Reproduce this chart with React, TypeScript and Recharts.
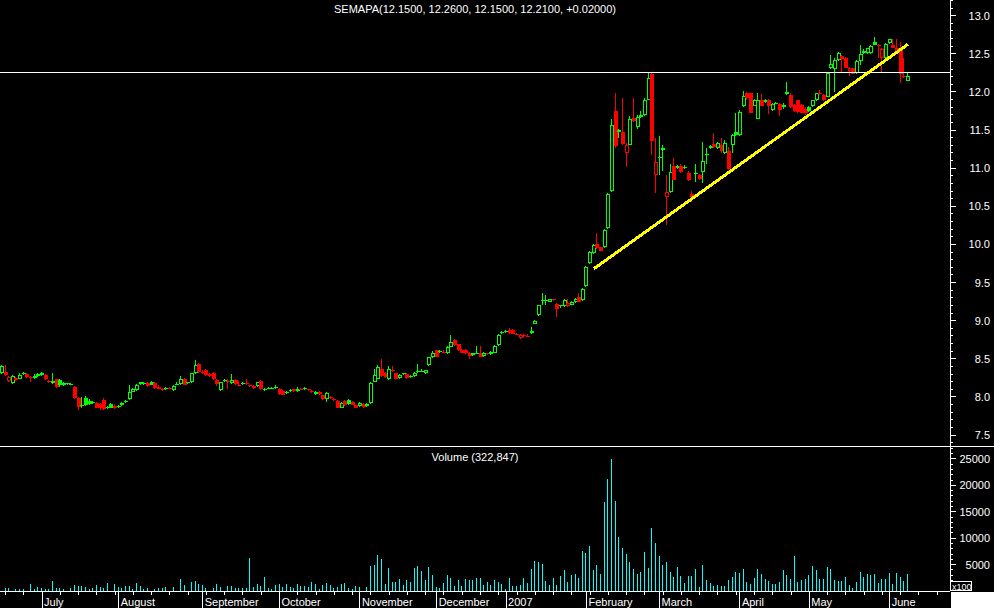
import React from "react";
import { ComposedChart, Bar, XAxis, YAxis, ReferenceLine } from "recharts";

document.body.style.margin = "0";
document.body.style.background = "#000";

// [open, high, low, close] per trading day, late June 2006 .. early June 2007
const candles: [number, number, number, number][] = [
  // 0-9
  [8.31, 8.42, 8.3, 8.4], [8.33, 8.42, 8.28, 8.29], [8.21, 8.27, 8.2, 8.26], [8.18, 8.29, 8.17, 8.27], [8.25, 8.26, 8.21, 8.22],
  [8.24, 8.31, 8.23, 8.29], [8.3, 8.33, 8.29, 8.31], [8.3, 8.31, 8.25, 8.26], [8.26, 8.27, 8.19, 8.25], [8.25, 8.3, 8.24, 8.27],
  // 10-19
  [8.3, 8.32, 8.26, 8.28], [8.31, 8.33, 8.28, 8.29], [8.29, 8.3, 8.22, 8.23], [8.21, 8.22, 8.18, 8.19], [8.18, 8.31, 8.17, 8.21],
  [8.23, 8.24, 8.12, 8.13], [8.22, 8.23, 8.13, 8.15], [8.18, 8.19, 8.14, 8.16], [8.18, 8.18, 8.15, 8.17], [8.16, 8.18, 8.15, 8.17],
  // 20-29
  [8.13, 8.14, 7.97, 7.98], [7.98, 8.0, 7.83, 7.87], [7.89, 8.0, 7.86, 7.88], [7.99, 8.01, 7.88, 7.9], [7.95, 7.97, 7.9, 7.91],
  [7.93, 7.94, 7.91, 7.92], [7.92, 7.93, 7.85, 7.86], [7.91, 7.92, 7.83, 7.85], [7.96, 7.98, 7.83, 7.84], [7.87, 7.88, 7.84, 7.85],
  // 30-39
  [7.91, 7.92, 7.85, 7.86], [7.88, 7.91, 7.84, 7.85], [7.88, 7.89, 7.86, 7.87], [7.89, 7.93, 7.88, 7.92], [7.93, 7.96, 7.92, 7.95],
  [7.97, 8.16, 7.96, 8.07], [8.07, 8.12, 8.06, 8.11], [8.09, 8.17, 8.08, 8.16], [8.19, 8.2, 8.16, 8.17], [8.17, 8.19, 8.16, 8.18],
  // 40-49
  [8.18, 8.19, 8.13, 8.14], [8.2, 8.21, 8.15, 8.16], [8.18, 8.19, 8.11, 8.12], [8.13, 8.15, 8.1, 8.11], [8.11, 8.12, 8.08, 8.09],
  [8.1, 8.13, 8.09, 8.12], [8.12, 8.13, 8.1, 8.11], [8.09, 8.15, 8.08, 8.14], [8.16, 8.19, 8.15, 8.17], [8.17, 8.27, 8.16, 8.23],
  // 50-59
  [8.24, 8.25, 8.15, 8.16], [8.18, 8.2, 8.17, 8.19], [8.19, 8.32, 8.18, 8.31], [8.31, 8.49, 8.3, 8.42], [8.43, 8.44, 8.32, 8.33],
  [8.33, 8.35, 8.3, 8.31], [8.35, 8.36, 8.28, 8.29], [8.3, 8.31, 8.26, 8.27], [8.32, 8.33, 8.22, 8.23], [8.22, 8.23, 8.14, 8.17],
  // 60-69
  [8.09, 8.2, 8.08, 8.19], [8.21, 8.23, 8.2, 8.22], [8.21, 8.23, 8.11, 8.2], [8.18, 8.3, 8.17, 8.22], [8.22, 8.23, 8.16, 8.17],
  [8.16, 8.21, 8.15, 8.16], [8.17, 8.19, 8.16, 8.18], [8.18, 8.23, 8.15, 8.17], [8.15, 8.16, 8.13, 8.14], [8.14, 8.15, 8.11, 8.12],
  // 70-79
  [8.14, 8.2, 8.13, 8.19], [8.21, 8.22, 8.09, 8.1], [8.1, 8.12, 8.08, 8.11], [8.11, 8.13, 8.1, 8.12], [8.12, 8.13, 8.1, 8.12],
  [8.12, 8.15, 8.11, 8.13], [8.11, 8.12, 8.03, 8.04], [8.08, 8.09, 8.02, 8.03], [8.05, 8.08, 8.04, 8.07], [8.08, 8.1, 8.07, 8.09],
  // 80-89
  [8.1, 8.11, 8.07, 8.08], [8.08, 8.13, 8.07, 8.11], [8.11, 8.12, 8.09, 8.1], [8.12, 8.13, 8.09, 8.1], [8.1, 8.11, 8.08, 8.09],
  [8.08, 8.09, 8.05, 8.06], [8.04, 8.08, 8.03, 8.07], [8.07, 8.08, 8.03, 8.04], [8.02, 8.03, 7.96, 7.97], [7.97, 8.06, 7.93, 8.05],
  // 90-99
  [7.98, 8.01, 7.97, 8.0], [7.97, 7.98, 7.95, 7.96], [7.95, 7.96, 7.85, 7.86], [7.86, 7.93, 7.85, 7.92], [7.95, 7.96, 7.88, 7.89],
  [7.96, 7.97, 7.9, 7.91], [7.93, 7.94, 7.89, 7.9], [7.89, 7.9, 7.85, 7.86], [7.88, 7.93, 7.87, 7.92], [7.91, 7.92, 7.86, 7.87],
  // 100-109
  [7.88, 7.92, 7.87, 7.91], [7.92, 8.19, 7.91, 8.18], [8.2, 8.37, 8.19, 8.29], [8.24, 8.42, 8.23, 8.39], [8.37, 8.5, 8.26, 8.27],
  [8.32, 8.33, 8.25, 8.26], [8.23, 8.41, 8.22, 8.36], [8.35, 8.4, 8.33, 8.35], [8.31, 8.32, 8.23, 8.24], [8.25, 8.3, 8.24, 8.29],
  // 110-119
  [8.3, 8.32, 8.29, 8.31], [8.3, 8.31, 8.24, 8.25], [8.26, 8.29, 8.25, 8.28], [8.27, 8.33, 8.26, 8.32], [8.33, 8.43, 8.32, 8.34],
  [8.34, 8.36, 8.33, 8.34], [8.31, 8.35, 8.3, 8.35], [8.42, 8.53, 8.41, 8.52], [8.52, 8.6, 8.51, 8.58], [8.61, 8.62, 8.52, 8.53],
  // 120-129
  [8.6, 8.61, 8.57, 8.59], [8.59, 8.61, 8.57, 8.58], [8.57, 8.67, 8.56, 8.66], [8.66, 8.81, 8.65, 8.72], [8.75, 8.76, 8.67, 8.68],
  [8.69, 8.7, 8.6, 8.61], [8.62, 8.63, 8.57, 8.58], [8.62, 8.63, 8.56, 8.57], [8.58, 8.59, 8.5, 8.54], [8.55, 8.58, 8.54, 8.57],
  // 130-139
  [8.58, 8.67, 8.56, 8.58], [8.58, 8.67, 8.52, 8.53], [8.54, 8.59, 8.53, 8.58], [8.57, 8.58, 8.55, 8.56], [8.56, 8.6, 8.55, 8.59],
  [8.58, 8.68, 8.57, 8.67], [8.68, 8.82, 8.67, 8.81], [8.84, 8.86, 8.83, 8.85], [8.87, 8.88, 8.84, 8.86], [8.88, 8.91, 8.83, 8.84],
  // 140-149
  [8.88, 8.89, 8.82, 8.83], [8.83, 8.84, 8.81, 8.82], [8.77, 8.82, 8.76, 8.81], [8.81, 8.83, 8.79, 8.8], [8.8, 8.82, 8.78, 8.79],
  [8.84, 8.92, 8.83, 8.87], [8.96, 9.01, 8.95, 9.0], [9.07, 9.21, 9.06, 9.2], [9.26, 9.36, 9.2, 9.27], [9.27, 9.34, 9.2, 9.27],
  // 150-159
  [9.25, 9.29, 9.24, 9.28], [9.28, 9.29, 9.26, 9.27], [9.22, 9.23, 9.05, 9.15], [9.19, 9.21, 9.17, 9.2], [9.19, 9.28, 9.18, 9.27],
  [9.19, 9.29, 9.18, 9.23], [9.21, 9.26, 9.2, 9.25], [9.24, 9.3, 9.23, 9.29], [9.31, 9.36, 9.24, 9.25], [9.27, 9.43, 9.26, 9.42],
  // 160-169
  [9.45, 9.72, 9.44, 9.71], [9.75, 9.91, 9.74, 9.9], [9.89, 10.0, 9.88, 9.99], [10.01, 10.15, 9.94, 9.95], [9.96, 9.97, 9.91, 9.92],
  [9.96, 10.2, 9.95, 10.19], [10.21, 10.67, 10.2, 10.66], [10.7, 11.65, 10.69, 11.57], [11.75, 11.98, 11.26, 11.29], [11.5, 11.52, 11.4, 11.47],
  // 170-179
  [11.47, 11.92, 11.3, 11.32], [11.2, 11.33, 11.02, 11.3], [11.31, 11.68, 11.3, 11.65], [11.66, 11.92, 11.6, 11.62], [11.54, 11.7, 11.52, 11.67],
  [11.67, 11.75, 11.66, 11.7], [11.7, 11.92, 11.69, 11.9], [11.9, 12.25, 11.89, 12.18], [12.24, 12.25, 11.17, 11.36], [10.91, 11.4, 10.68, 11.08],
  // 180-189
  [11.15, 11.42, 10.91, 11.13], [11.27, 11.3, 10.96, 11.24], [10.62, 10.91, 10.25, 10.69], [10.69, 11.06, 10.68, 10.95], [11.03, 11.13, 10.84, 10.85],
  [11.03, 11.04, 10.99, 11.0], [11.03, 11.06, 10.94, 10.95], [11.02, 11.04, 10.99, 11.01], [10.94, 10.96, 10.83, 10.84], [10.66, 10.7, 10.55, 10.62],
  // 190-199
  [10.94, 11.06, 10.82, 10.93], [10.91, 10.93, 10.85, 10.86], [10.95, 11.35, 10.8, 11.09], [11.17, 11.26, 11.06, 11.18], [11.26, 11.3, 11.25, 11.29],
  [11.32, 11.46, 11.27, 11.28], [11.26, 11.34, 11.25, 11.33], [11.31, 11.4, 11.2, 11.22], [11.2, 11.37, 11.19, 11.33], [11.22, 11.28, 10.97, 10.99],
  // 200-209
  [11.3, 11.45, 11.2, 11.43], [11.47, 11.72, 11.42, 11.44], [11.43, 11.76, 11.42, 11.74], [11.82, 12.01, 11.8, 11.95], [11.99, 12.0, 11.9, 11.92],
  [11.98, 11.99, 11.72, 11.73], [11.82, 11.91, 11.81, 11.9], [11.65, 11.98, 11.64, 11.9], [11.9, 11.97, 11.81, 11.82], [11.9, 11.91, 11.86, 11.87],
  // 210-219
  [11.9, 11.91, 11.71, 11.82], [11.76, 11.85, 11.75, 11.84], [11.85, 11.87, 11.84, 11.86], [11.84, 11.85, 11.69, 11.76], [11.8, 11.86, 11.78, 11.83],
  [12.0, 12.13, 11.96, 11.97], [11.96, 11.99, 11.79, 11.8], [11.83, 11.84, 11.74, 11.75], [11.89, 11.9, 11.73, 11.74], [11.83, 11.84, 11.72, 11.73],
  // 220-229
  [11.78, 11.8, 11.7, 11.72], [11.8, 11.81, 11.74, 11.75], [11.81, 11.9, 11.8, 11.89], [11.89, 11.99, 11.88, 11.98], [11.98, 12.03, 11.96, 11.97],
  [11.96, 11.97, 11.88, 11.89], [11.94, 12.25, 11.93, 12.25], [12.31, 12.49, 12.3, 12.37], [12.3, 12.44, 12.0, 12.42], [12.42, 12.53, 12.41, 12.51],
  // 230-239
  [12.47, 12.49, 12.25, 12.43], [12.45, 12.46, 12.31, 12.32], [12.27, 12.33, 12.21, 12.31], [12.31, 12.32, 12.23, 12.24], [12.25, 12.42, 12.24, 12.4],
  [12.41, 12.62, 12.35, 12.5], [12.51, 12.56, 12.5, 12.54], [12.51, 12.58, 12.5, 12.57], [12.51, 12.62, 12.5, 12.6], [12.65, 12.72, 12.61, 12.62],
  // 240-248
  [12.61, 12.63, 12.44, 12.6], [12.45, 12.58, 12.25, 12.56], [12.44, 12.64, 12.43, 12.63], [12.64, 12.7, 12.63, 12.7], [12.62, 12.69, 12.57, 12.58],
  [12.57, 12.69, 12.53, 12.54], [12.57, 12.66, 12.12, 12.24], [12.21, 12.45, 12.18, 12.2], [12.15, 12.26, 12.15, 12.21],
];

// daily volume, in hundreds of shares
const volumes = [
  0, 570, 570, 0, 380, 380, 380, 0, 1325, 380,
  820, 570, 440, 380, 1890, 570, 570, 380, 0, 570,
  1136, 1010, 1010, 820, 440, 570, 1136, 820, 570, 1515,
  0, 1325, 820, 570, 1010, 1010, 380, 1515, 950, 380,
  570, 0, 380, 570, 570, 760, 0, 760, 0, 2270,
  1136, 0, 1700, 1890, 1325, 1136, 570, 0, 570, 1325,
  760, 0, 950, 950, 570, 570, 570, 570, 6250, 760,
  1325, 950, 2650, 570, 380, 1136, 1325, 760, 1325, 760,
  570, 1325, 950, 950, 760, 1700, 1325, 380, 1136, 1515,
  1136, 570, 760, 1325, 1515, 570, 380, 950, 760, 0,
  760, 4730, 4920, 6815, 6060, 1325, 4350, 1700, 1700, 2270,
  1136, 2080, 1700, 4350, 4730, 3790, 2080, 4540, 3030, 760,
  570, 1515, 3030, 2460, 950, 2080, 950, 2270, 2080, 2080,
  2460, 2460, 1136, 1700, 1136, 2080, 1700, 1325, 380, 2460,
  950, 950, 1136, 2460, 1515, 4165, 5680, 5490, 5110, 1890,
  1136, 2460, 1136, 2840, 3975, 1700, 3030, 3220, 2460, 7570,
  7190, 8520, 3975, 4920, 3220, 16850, 21200, 24990, 17040, 10220,
  8140, 7000, 5490, 4165, 3220, 3600, 7380, 4350, 11930, 9090,
  6630, 4920, 5490, 3600, 2650, 4540, 2840, 1515, 2840, 2840,
  4165, 760, 4920, 2080, 1515, 950, 1136, 950, 950, 2080,
  2650, 3600, 3410, 4165, 1700, 1325, 2460, 4165, 3220, 2270,
  1890, 1325, 1325, 1700, 3975, 3030, 2270, 6630, 1700, 2080,
  2270, 3030, 4730, 3975, 2270, 2270, 4540, 4165, 2080, 1890,
  1890, 2650, 1136, 570, 1700, 3600, 2650, 3220, 3030, 3220,
  1515, 2270, 2270, 3410, 1325, 3410, 2650, 1890, 3220,
];

const monthTicks = [
  { idx: 11, label: "July" },
  { idx: 32, label: "August" },
  { idx: 55, label: "September" },
  { idx: 76, label: "October" },
  { idx: 98, label: "November" },
  { idx: 119, label: "December" },
  { idx: 138, label: "2007" },
  { idx: 160, label: "February" },
  { idx: 180, label: "March" },
  { idx: 202, label: "April" },
  { idx: 221, label: "May" },
  { idx: 243, label: "June" },
];

const priceTicks = [7.5, 8.0, 8.5, 9.0, 9.5, 10.0, 10.5, 11.0, 11.5, 12.0, 12.5, 13.0];
const volumeTicks = [5000, 10000, 15000, 20000, 25000];

const resistance = 12.25;
const trendStart = { idx: 162, price: 9.68 };
const trendEnd = { idx: 248, price: 12.625 };

const SLOTS = 260;
const GREEN = "#00ff00";
const RED = "#ff0000";
const CYAN = "#00ffff";
const FONT = "'Liberation Sans', Arial, sans-serif";

const data = Array.from({ length: SLOTS }, (_, i) => {
  const k = candles[i];
  if (!k) return { i };
  return {
    i,
    o: k[0],
    h: k[1],
    l: k[2],
    c: k[3],
    prev: i > 0 ? candles[i - 1][3] : null,
    range: [k[2], k[1]],
    vol: volumes[i],
  };
});

// minor ticks every 0.1 / 1000, labels only on priceTicks / volumeTicks
const minorPrice: number[] = [];
for (let v = 7.4; v <= 13.21; v += 0.1) minorPrice.push(Math.round(v * 10) / 10);
const minorVolume: number[] = [];
for (let v = 1000; v <= 27000; v += 1000) minorVolume.push(v);

const weekTicks: number[] = [];
for (let k = 1; k < SLOTS; k += 5) weekTicks.push(k);
const monthByIdx = new Map(monthTicks.map((m) => [m.idx, m.label]));
const xTicks = Array.from(new Set([...weekTicks, ...monthTicks.map((m) => m.idx)])).sort((a, b) => a - b);

function Candle(props: any) {
  const { x, y, width, height, payload } = props;
  if (!payload || payload.c == null || !isFinite(y) || !isFinite(height)) return null;
  const { o, h, l, c, prev } = payload;
  const top = Math.min(y, y + height);
  const k = Math.abs(height) / (h - l);
  const py = (v: number) => Math.round(top + (h - v) * k);
  const cx = Math.round(x + width / 2) - 1;
  const color = prev == null || c >= prev ? GREEN : RED;
  const hollow = c > o;
  const bt = py(Math.max(o, c));
  const bb = Math.max(py(Math.min(o, c)), bt + 1);
  const yh = py(h);
  const yl = Math.max(py(l), bb);
  return (
    <g>
      {bt > yh && <rect x={cx} y={yh} width={1} height={bt - yh} fill={color} />}
      {yl > bb && <rect x={cx} y={bb} width={1} height={yl - bb} fill={color} />}
      <rect x={cx - 1} y={bt} width={4} height={bb - bt} fill={color} />
      {hollow && bb - bt > 2 && <rect x={cx} y={bt + 1} width={2} height={bb - bt - 2} fill="#000" />}
    </g>
  );
}

function VolumeBar(props: any) {
  const { x, y, width, height, payload } = props;
  if (!payload || !payload.vol || !isFinite(y) || !isFinite(height)) return null;
  const top = Math.min(y, y + height);
  return <rect x={Math.round(x + width / 2) - 1} y={Math.round(top)} width={1} height={Math.round(Math.abs(height))} fill={CYAN} />;
}

function PriceTick(props: any) {
  const { x, y, payload } = props;
  const v = payload.value;
  const major = priceTicks.some((t) => Math.abs(t - v) < 1e-6);
  return (
    <g>
      <line x1={x} x2={x + (major ? 6 : 3)} y1={y} y2={y} stroke="#fff" />
      {major && (
        <text x={990} y={y + 4} textAnchor="end" fill="#fff" fontSize={11} fontFamily={FONT}>
          {v.toFixed(1)}
        </text>
      )}
    </g>
  );
}

function VolumeTick(props: any) {
  const { x, y, payload } = props;
  const v = payload.value;
  const major = volumeTicks.includes(v);
  return (
    <g>
      <line x1={x} x2={x + (major ? 6 : 3)} y1={y} y2={y} stroke="#fff" />
      {major && (
        <text x={990} y={y + 4} textAnchor="end" fill="#fff" fontSize={11} fontFamily={FONT}>
          {v}
        </text>
      )}
    </g>
  );
}

function DateTick(props: any) {
  const { x, y, payload } = props;
  const label = monthByIdx.get(payload.value);
  if (label) {
    return (
      <g>
        <line x1={x} x2={x} y1={y} y2={y + 17} stroke="#fff" />
        <text x={x + 2} y={y + 15} fill="#fff" fontSize={11} fontFamily={FONT}>
          {label}
        </text>
      </g>
    );
  }
  return <line x1={x} x2={x} y1={y} y2={y + 4} stroke="#fff" />;
}

export default function App() {
  return (
    <div
      style={{
        position: "relative",
        width: 994,
        height: 608,
        background: "#000",
        overflow: "hidden",
        shapeRendering: "crispEdges",
      }}
    >
      <div style={{ position: "absolute", left: 0, top: 0 }}>
        <ComposedChart width={994} height={447} data={data} margin={{ top: 0, right: 0, bottom: 0, left: 0 }}>
          <XAxis dataKey="i" hide />
          <YAxis
            orientation="right"
            width={44}
            type="number"
            domain={[7.343, 13.206]}
            allowDataOverflow
            ticks={minorPrice}
            interval={0}
            tick={PriceTick}
            tickSize={0}
            tickMargin={0}
            tickLine={false}
            axisLine={{ stroke: "#fff" }}
          />
          <ReferenceLine y={resistance} stroke="#fff" strokeWidth={1} />
          <Bar dataKey="range" shape={Candle} isAnimationActive={false} />
          <ReferenceLine
            segment={[
              { x: trendStart.idx, y: trendStart.price },
              { x: trendEnd.idx, y: trendEnd.price },
            ]}
            stroke="#ffff00"
            strokeWidth={3}
            ifOverflow="visible"
          />
        </ComposedChart>
      </div>
      <div style={{ position: "absolute", left: 0, top: 447 }}>
        <ComposedChart width={994} height={161} data={data} margin={{ top: 0, right: 0, bottom: 0, left: 0 }}>
          <XAxis
            dataKey="i"
            ticks={xTicks}
            interval={0}
            tick={DateTick}
            tickSize={0}
            tickMargin={0}
            tickLine={false}
            height={17}
            axisLine={{ stroke: "#fff" }}
          />
          <YAxis
            orientation="right"
            width={44}
            type="number"
            domain={[0, 27270]}
            allowDataOverflow
            ticks={minorVolume}
            interval={0}
            tick={VolumeTick}
            tickSize={0}
            tickMargin={0}
            tickLine={false}
            axisLine={{ stroke: "#fff" }}
          />
          <Bar dataKey="vol" shape={VolumeBar} isAnimationActive={false} />
        </ComposedChart>
      </div>
      <svg width={994} height={608} style={{ position: "absolute", left: 0, top: 0, pointerEvents: "none" }}>
        <text x={475} y={13} textAnchor="middle" fill="#fff" fontSize={11} fontFamily={FONT}>
          SEMAPA(12.1500, 12.2600, 12.1500, 12.2100, +0.02000)
        </text>
        <text x={475} y={461} textAnchor="middle" fill="#fff" fontSize={11} fontFamily={FONT}>
          Volume (322,847)
        </text>
        <rect x={0} y={446} width={994} height={1} fill="#fff" />
        <rect x={950.5} y={581.5} width={21} height={9} fill="#000" stroke="#fff" />
        <text x={952} y={590} fill="#fff" fontSize={9} fontFamily={FONT}>
          x100
        </text>
        <rect x={951} y={592} width={43} height={16} fill="#fff" />
      </svg>
    </div>
  );
}
